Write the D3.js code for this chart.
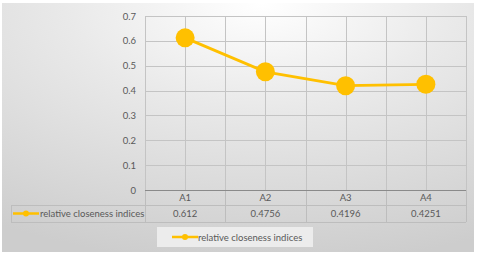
<!DOCTYPE html>
<html>
<head>
<meta charset="utf-8">
<script src="https://cdn.jsdelivr.net/npm/d3@7"></script>
<style>
  body { margin: 0; background: #fff; }
  text { font-family: Lato, "Open Sans", sans-serif; fill: #595959; }
</style>
</head>
<body>
<div id="app"></div>
<script>
const categories = ['A1', 'A2', 'A3', 'A4'];
const values = [0.612, 0.4756, 0.4196, 0.4251];
const valueLabels = ['0.612', '0.4756', '0.4196', '0.4251'];
const yTicks = [0, 0.1, 0.2, 0.3, 0.4, 0.5, 0.6, 0.7];
const seriesName = 'relative closeness indices';

const W = 478, H = 255;
const plot = { left: 145, right: 466, top: 16, bottom: 190 };
const gold = '#FFC000';

const svg = d3.select('#app').append('svg')
  .attr('width', W).attr('height', H);

// chart area background
const defs = svg.append('defs');
const grad = defs.append('radialGradient').attr('id', 'bg')
  .attr('cx', '0.55').attr('cy', '0').attr('r', '1.05')
  .attr('fx', '0.55').attr('fy', '0');
grad.append('stop').attr('offset', '0').attr('stop-color', '#ffffff');
grad.append('stop').attr('offset', '0.4').attr('stop-color', '#e9e9e9');
grad.append('stop').attr('offset', '1').attr('stop-color', '#cdcdcd');

svg.append('rect')
  .attr('x', 2).attr('y', 3).attr('width', 472).attr('height', 249)
  .attr('fill', 'url(#bg)');

const x = d3.scaleBand().domain(categories).range([plot.left, plot.right]);
const y = d3.scaleLinear().domain([0, 0.7]).range([plot.bottom, plot.top]);

const grid = svg.append('g');
// horizontal gridlines
grid.selectAll('line.h').data(yTicks.filter(d => d > 0)).enter().append('line')
  .attr('x1', plot.left).attr('x2', plot.right)
  .attr('y1', d => Math.round(y(d)) + 0.5).attr('y2', d => Math.round(y(d)) + 0.5)
  .attr('stroke', '#c4c4c4');
// vertical gridlines at centers and boundaries
const vx = categories.map(c => x(c) + x.bandwidth() / 2)
  .concat(categories.map(c => x(c)), [plot.right]);
grid.selectAll('line.v').data(vx).enter().append('line')
  .attr('x1', d => Math.round(d) + 0.5).attr('x2', d => Math.round(d) + 0.5)
  .attr('y1', plot.top).attr('y2', plot.bottom)
  .attr('stroke', '#c4c4c4');

// y tick labels
svg.append('g').selectAll('text').data(yTicks).enter().append('text')
  .attr('x', 136).attr('y', d => y(d) + 3.5)
  .attr('text-anchor', 'end').attr('font-size', 9.5)
  .text(d => d === 0 ? '0' : d3.format('.1f')(d));

// data table
const rowTop = 190, rowMid = 205, rowBot = 222, keyLeft = 11;
const tbl = svg.append('g').attr('stroke', '#bdbdbd').attr('fill', 'none');
tbl.append('line').attr('x1', keyLeft).attr('x2', plot.right)
  .attr('y1', rowMid + 0.5).attr('y2', rowMid + 0.5);
tbl.append('line').attr('x1', keyLeft).attr('x2', plot.right)
  .attr('y1', rowBot + 0.5).attr('y2', rowBot + 0.5);
tbl.append('line').attr('x1', keyLeft + 0.5).attr('x2', keyLeft + 0.5)
  .attr('y1', rowMid).attr('y2', rowBot);
tbl.selectAll('line.b').data(categories.map(c => x(c)).concat([plot.right])).enter().append('line')
  .attr('x1', d => Math.round(d) + 0.5).attr('x2', d => Math.round(d) + 0.5)
  .attr('y1', rowTop).attr('y2', rowBot);

// axis line
svg.append('line')
  .attr('x1', plot.left).attr('x2', plot.right)
  .attr('y1', plot.bottom + 0.5).attr('y2', plot.bottom + 0.5)
  .attr('stroke', '#8a8a8a').attr('stroke-width', 1.2);

svg.append('g').selectAll('text').data(categories).enter().append('text')
  .attr('x', d => x(d) + x.bandwidth() / 2).attr('y', 201)
  .attr('text-anchor', 'middle').attr('font-size', 9.5)
  .text(d => d);

svg.append('g').selectAll('text').data(valueLabels).enter().append('text')
  .attr('x', (d, i) => x(categories[i]) + x.bandwidth() / 2).attr('y', 217)
  .attr('text-anchor', 'middle').attr('font-size', 9.5)
  .text(d => d);

function legendKey(g, cx, cy) {
  g.append('line').attr('x1', cx - 13).attr('x2', cx + 13)
    .attr('y1', cy).attr('y2', cy)
    .attr('stroke', gold).attr('stroke-width', 2.5);
  g.append('circle').attr('cx', cx).attr('cy', cy).attr('r', 3).attr('fill', gold);
}

const key1 = svg.append('g');
legendKey(key1, 26, 213.5);
key1.append('text').attr('x', 40).attr('y', 217).attr('font-size', 9.5).text(seriesName);

// series line
const line = d3.line()
  .x((d, i) => x(categories[i]) + x.bandwidth() / 2)
  .y(d => y(d));
svg.append('path').datum(values)
  .attr('d', line).attr('fill', 'none')
  .attr('stroke', gold).attr('stroke-width', 2.8);
svg.append('g').selectAll('circle').data(values).enter().append('circle')
  .attr('cx', (d, i) => x(categories[i]) + x.bandwidth() / 2)
  .attr('cy', d => y(d)).attr('r', 9.5)
  .attr('fill', gold);

// bottom legend
const lg = svg.append('g');
lg.append('rect').attr('x', 157).attr('y', 227).attr('width', 156).attr('height', 20)
  .attr('fill', '#ececec');
legendKey(lg, 185, 237);
lg.append('text').attr('x', 198).attr('y', 240.5).attr('font-size', 9.5).text(seriesName);
</script>
</body>
</html>
